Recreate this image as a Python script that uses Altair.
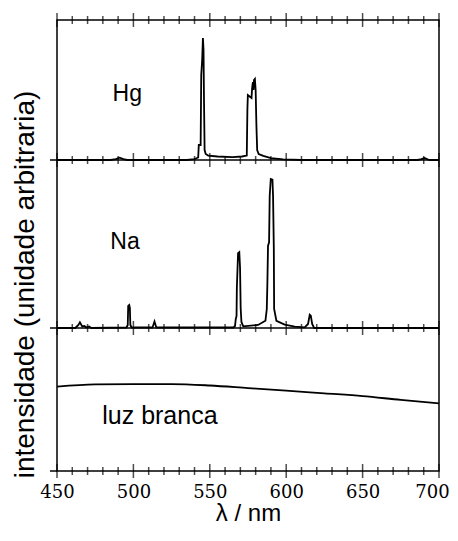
import altair as alt
import pandas as pd

# ---- data ----
hg_nm = [450, 485, 488.5, 491, 493.5, 496, 535, 540, 542.4, 542.8, 544.0, 544.4, 545.0, 545.5,
         545.9, 546.2, 546.6, 547.3, 549, 555, 565, 571, 574.2, 574.6, 574.9, 576.5, 577.3, 577.7,
         578.2, 578.6, 578.9, 579.5, 580.0, 580.5, 581.0, 582, 585, 590, 598, 610, 686, 688.5,
         690.5, 692.5, 694, 700]
hg_val = [0, 0, 0.6, 1.6, 0.6, 0, 0, 0.7, 1.8, 10.7, 10.7, 60.7, 71.4, 87.1,
          78.6, 42.9, 7.1, 4.3, 3.2, 2.5, 2.1, 2.5, 3.2, 35.7, 46.4, 45.0, 44.3, 51.4,
          55.7, 50.0, 57.1, 57.9, 50.0, 25.0, 7.1, 4.3, 2.9, 1.4, 0.4, 0, 0, 0.6,
          1.4, 0.4, 0, 0]

na_nm = [450, 462, 464, 465, 466.5, 468, 469, 471, 472.5, 495.5, 496.3, 496.6, 497.3, 497.7,
         498.0, 498.8, 512.5, 513.8, 515, 565.5, 566.5, 567.0, 567.5, 567.7, 568.5, 569.3,
         569.8, 570.2, 570.7, 571.9, 581.6, 586.4, 587.3, 587.7, 588.1, 588.8, 589.2, 589.9,
         591.0, 591.4, 591.9, 592.1, 593.6, 599.0, 605.6, 612.1, 614.3, 615.4, 616.1, 617.0,
         618.3, 700]
na_val = [0, 0, 1.8, 3.4, 0.9, 1.2, 0.3, 0.9, 0, 0.3, 1.8, 13.1, 13.7, 11.9,
          1.8, 0.3, 0.3, 3.9, 0.3, 0.3, 1.2, 5.4, 7.1, 23.8, 44.6, 45.2,
          35.7, 11.9, 3.6, 1.0, 1.8, 4.3, 11.3, 27.2, 49.0, 51.0, 78.6, 88.7,
          88.3, 78.6, 47.0, 11.3, 4.3, 2.0, 0.8, 0.4, 2.4, 7.9, 7.3, 2.4,
          0, 0]

wl_nm = [450, 475, 500, 525, 550, 575, 600, 625, 650, 675, 700]
wl_val = [59.0, 60.6, 60.8, 60.8, 59.8, 58.0, 56.2, 54.3, 52.4, 49.7, 47.3]

major_ticks = [450, 500, 550, 600, 650, 700]
minor_ticks = [460, 470, 480, 490, 510, 520, 530, 540, 560, 570, 580, 590,
               610, 620, 630, 640, 660, 670, 680, 690]

labels = ["Hg", "Na", "luz branca"]
label_nm = [486.4, 484.9, 479.6]
label_val = [42.4, 47.0, 32.9]
label_size = [23, 23, 25]

y_title = "intensidade (unidade arbitraria)"
x_title = "λ / nm"

# ---- layout (pixels) ----
W = 382
PANEL_H = [140, 168, 143]           # Hg, Na, luz branca
H = sum(PANEL_H)
TOPS = [0, PANEL_H[0], PANEL_H[0] + PANEL_H[1]]
BLACK = "black"
LW = 1.5

XSCALE = alt.Scale(domain=[450, 700], nice=False, zero=False)
XAXIS = alt.Axis(values=major_ticks, ticks=False, tickSize=0, domain=False, grid=False,
                 labelFont="DejaVu Serif", labelFontSize=18, labelColor=BLACK,
                 labelBaseline="alphabetic", labelPadding=26, labelFlush=False,
                 labelOverlap=False,
                 labelOffset={"condition": {"test": "datum.value === 700", "value": -7},
                              "value": 0},
                 title=x_title, titleFont="Liberation Sans", titleFontSize=24,
                 titleFontWeight="normal", titleColor=BLACK,
                 titleBaseline="alphabetic", titleY=49)


def xenc(f):
    return alt.X(f"{f}:Q", scale=XSCALE, axis=XAXIS)


def band_scale(i):
    # each panel's 0..100 occupies its own horizontal band of the plot
    top, h = TOPS[i], PANEL_H[i]
    hi = (top + h) * 100.0 / h
    lo = hi - 100.0 * H / h
    return alt.Scale(domain=[lo, hi], nice=False, zero=False)


def panel_layers(i, nm, val, interp="linear", yaxis=None):
    sc = band_scale(i)
    df = pd.DataFrame({"nm": nm, "v": val})
    line = alt.Chart(df).mark_line(color=BLACK, strokeWidth=1.8, interpolate=interp).encode(
        x=xenc("nm"), y=alt.Y("v:Q", scale=sc, axis=yaxis))
    ldf = pd.DataFrame({"lx": [label_nm[i]], "ly": [label_val[i]], "txt": [labels[i]]})
    text = alt.Chart(ldf).mark_text(align="left", baseline="alphabetic", font="Liberation Sans",
                                    fontSize=label_size[i], color=BLACK).encode(
        x=xenc("lx"), y=alt.Y("ly:Q", scale=sc, axis=None), text="txt:N")
    return [line, text]


yaxis_title = alt.Axis(orient="left", values=[0], ticks=False, labels=False, domain=False,
                       grid=False, title=y_title, titleFont="Liberation Sans", titleFontSize=28,
                       titleFontWeight="normal", titleColor=BLACK, titleAngle=270,
                       titleBaseline="alphabetic", titleAlign="center",
                       titleX=-24, titleY=264)

layers = []
layers += panel_layers(0, hg_nm, hg_val)
layers += panel_layers(1, na_nm, na_val)
layers += panel_layers(2, wl_nm, wl_val, interp="monotone", yaxis=yaxis_title)

# panel separators and short outward ticks on the left at each baseline
for yb in [PANEL_H[0], PANEL_H[0] + PANEL_H[1]]:
    layers.append(alt.Chart(pd.DataFrame({"a": [0]})).mark_rule(
        color=BLACK, strokeWidth=LW).encode(x=alt.value(0), x2=alt.value(W), y=alt.value(yb)))
for yb in [PANEL_H[0], PANEL_H[0] + PANEL_H[1], H]:
    layers.append(alt.Chart(pd.DataFrame({"a": [0]})).mark_rule(
        color=BLACK, strokeWidth=LW).encode(x=alt.value(-7), x2=alt.value(0), y=alt.value(yb)))

# crossing ticks (major and minor) on every horizontal frame line
for yb in [0, PANEL_H[0], PANEL_H[0] + PANEL_H[1], H]:
    layers.append(alt.Chart(pd.DataFrame({"t": major_ticks})).mark_tick(
        orient="vertical", size=14, thickness=LW, color=BLACK).encode(
        x=xenc("t"), y=alt.value(yb)))
    layers.append(alt.Chart(pd.DataFrame({"t": minor_ticks})).mark_tick(
        orient="vertical", size=8, thickness=LW, color=BLACK).encode(
        x=xenc("t"), y=alt.value(yb)))

chart = alt.layer(*layers).resolve_scale(y="independent").properties(
    width=W, height=H,
    autosize=alt.AutoSizeParams(type="none"),
    padding={"left": 49, "top": 12, "right": 11, "bottom": 55},
    background="white",
).configure_view(stroke=BLACK, strokeWidth=LW)

chart.save("out.html", embed_options={"renderer": "svg", "actions": False})
